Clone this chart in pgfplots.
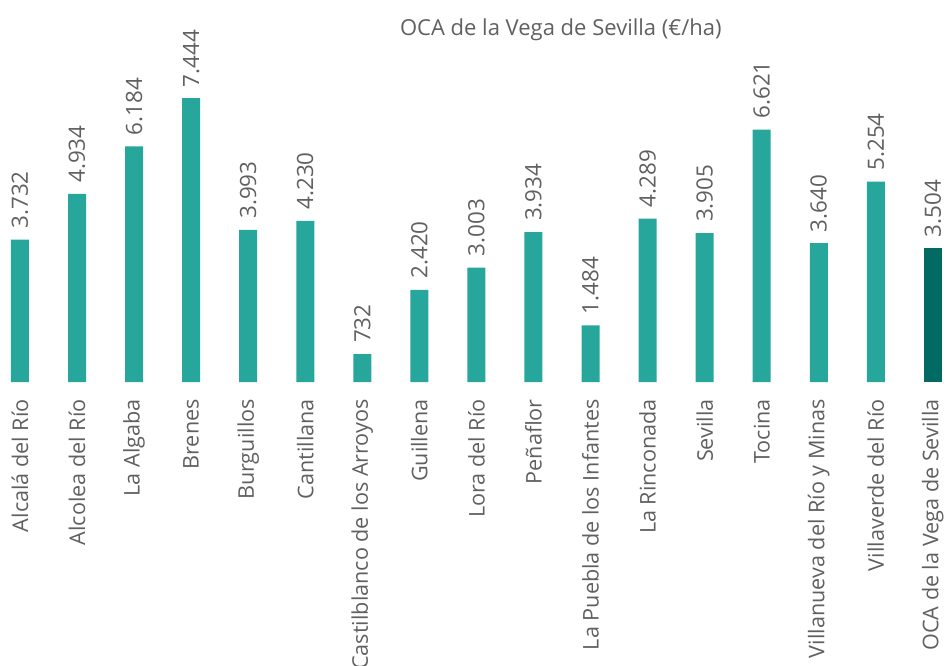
\documentclass[border=0pt]{standalone}
\usepackage{pgfplots}
\pgfplotsset{compat=1.18}
\usepackage{fontspec}
\setmainfont{Open Sans}

\definecolor{barteal}{HTML}{27A69C}
\definecolor{bardark}{HTML}{006A63}
\definecolor{txtgray}{HTML}{606060}

\begin{document}
\begin{tikzpicture}
  \begin{axis}[
      width=946bp, height=382bp, scale only axis,
      xmin=-0.35, xmax=16.23, ymin=0, ymax=10021,
      axis line style={draw=none},
      ytick=\empty,
      xtick={0,...,16},
      xticklabels={Alcalá del Río, Alcolea del Río, La Algaba, Brenes, Burguillos,
        Cantillana, Castilblanco de los Arroyos, Guillena, Lora del Río, Peñaflor,
        La Puebla de los Infantes, La Rinconada, Sevilla, Tocina,
        Villanueva del Río y Minas, Villaverde del Río, OCA de la Vega de Sevilla},
      major tick length=0pt,
      xtick style={draw=none},
      xticklabel shift=17bp,
      xticklabel style={rotate=90, anchor=east, inner sep=0pt,
        font=\fontsize{21.6bp}{26bp}\selectfont, text=txtgray},
      ybar, bar width=18bp, bar shift=0pt,
      clip=false,
      nodes near coords,
      every node near coord/.append style={rotate=90, anchor=west,
        inner xsep=11bp, inner ysep=0pt,
        font=\fontsize{22.4bp}{26bp}\selectfont, text=txtgray},
      /pgf/number format/.cd, fixed, precision=0, 1000 sep={.}, assume math mode=true,
    ]
    \addplot[draw=none, fill=barteal] coordinates {
      (0,3732) (1,4934) (2,6184) (3,7444) (4,3993) (5,4230) (6,732) (7,2420)
      (8,3003) (9,3934) (10,1484) (11,4289) (12,3905) (13,6621) (14,3640)
      (15,5254)
    };
    \addplot[draw=none, fill=bardark] coordinates {(16,3504)};
    \node[font=\fontsize{22bp}{26bp}\selectfont, text=txtgray]
      at (axis cs:9.48,9235) {OCA de la Vega de Sevilla (€/ha)};
    \coordinate (tl) at (rel axis cs:0,1);
    \coordinate (br) at (rel axis cs:1,0);
  \end{axis}
  \pgfresetboundingbox
  \path[use as bounding box] (tl) rectangle ([yshift=-284bp]br);
\end{tikzpicture}
\end{document}
